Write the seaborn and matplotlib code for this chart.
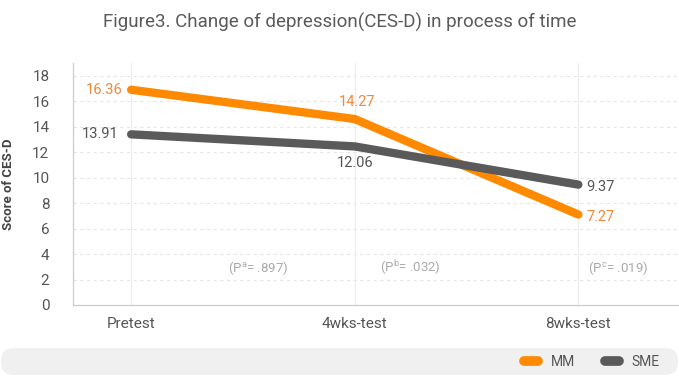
import matplotlib
matplotlib.use("Agg")
import matplotlib.pyplot as plt
import seaborn as sns
import pandas as pd
from matplotlib.patches import FancyBboxPatch
from matplotlib.lines import Line2D
from matplotlib.transforms import IdentityTransform

# ---- data ----
categories = ["Pretest", "4wks-test", "8wks-test"]
groups = ["MM", "SME"]
mm_values = [16.9, 14.6, 7.1]          # plotted positions
sme_values = [13.4, 12.45, 9.45]
mm_labels = ["16.36", "14.27", "7.27"]  # printed value labels
sme_labels = ["13.91", "12.06", "9.37"]
p_labels = [r"(P$^\mathrm{a}$= .897)", r"(P$^\mathrm{b}$= .032)", r"(P$^\mathrm{c}$= .019)"]
yticks = [0, 2, 4, 6, 8, 10, 12, 14, 16, 18]

title = "Figure3. Change of depression(CES-D) in process of time"
ylabel = "Score of CES-D"

df = pd.DataFrame({
    "time": categories * 2,
    "score": mm_values + sme_values,
    "group": [groups[0]] * 3 + [groups[1]] * 3,
})

colors = {"MM": "#FF8A00", "SME": "#5A5A5A"}
label_colors = {"MM": "#F0883A", "SME": "#555555"}

sns.set_theme(style="white")
plt.rcParams["font.family"] = ["Roboto", "DejaVu Sans"]
plt.rcParams["mathtext.fontset"] = "custom"
plt.rcParams["mathtext.rm"] = "Roboto"

fig = plt.figure(figsize=(6.79, 3.77), dpi=100)
ax = fig.add_axes([73 / 679, 1 - 305 / 377, 1 - 73 / 679, (305 - 63) / 377])

sns.lineplot(data=df, x="time", y="score", hue="group", palette=colors,
             sort=False, linewidth=6, ax=ax, legend=False,
             solid_capstyle="round", solid_joinstyle="round")

ax.set_xlim(-0.26, 2.45)
ax.set_ylim(0, 19)
ax.set_yticks(yticks)
ax.set_xticks(range(len(categories)))
ax.set_xticklabels(categories)
ax.tick_params(axis="y", length=0, pad=17, labelsize=11, labelcolor="#555555")
ax.tick_params(axis="x", length=0, pad=9, labelsize=11, labelcolor="#555555")
ax.set_xlabel("")
ax.set_ylabel(ylabel, fontsize=9.5, fontweight="bold", color="#444444", labelpad=12)

for y in yticks[1:]:
    ax.axhline(y, color="#e6e6e6", lw=0.8, ls=(0, (3, 3)), zorder=0)
for x in range(len(categories)):
    ax.axvline(x, color="#ebebeb", lw=0.8, zorder=0)

for side in ["top", "right"]:
    ax.spines[side].set_visible(False)
for side in ["left", "bottom"]:
    ax.spines[side].set_color("#cccccc")
    ax.spines[side].set_linewidth(0.9)

# value labels
mm_offsets = [(-6, 0, "right", "center"), (2, 12, "center", "center"), (6, -2, "left", "center")]
sme_offsets = [(-9, 0, "right", "center"), (0, -12, "center", "center"), (6, -2, "left", "center")]
for i in range(3):
    dx, dy, ha, va = mm_offsets[i]
    ax.annotate(mm_labels[i], (i, mm_values[i]), xytext=(dx, dy), textcoords="offset points",
                ha=ha, va=va, fontsize=10.5, color=label_colors["MM"])
    dx, dy, ha, va = sme_offsets[i]
    ax.annotate(sme_labels[i], (i, sme_values[i]), xytext=(dx, dy), textcoords="offset points",
                ha=ha, va=va, fontsize=10.5, color=label_colors["SME"])

p_x = [0.57, 1.25, 2.18]
for x, t in zip(p_x, p_labels):
    ax.text(x, 2.9, t, ha="center", va="center", fontsize=9.5, color="#aaaaaa")

fig.text(0.5, 1 - 22 / 377, title, ha="center", va="center", fontsize=13.5,
         color="#5a5a5a", fontweight="normal")

# legend band (pixel coordinates, dpi=100)
band = FancyBboxPatch((1, 2), 677, 27,
                      boxstyle="round,pad=0,rounding_size=13",
                      transform=IdentityTransform(), facecolor="#f0f0f0",
                      edgecolor="none")
fig.patches.append(band)
handles = [Line2D([0], [0], color=colors[g], lw=7, solid_capstyle="round") for g in groups]
fig.legend(handles, groups, loc="center", bbox_to_anchor=(592 / 679, 1 - 362 / 377),
           ncol=2, frameon=False, handlelength=1.0, columnspacing=2.2,
           handletextpad=0.9, fontsize=10, labelcolor="#555555")

fig.savefig("out.png", dpi=100)
